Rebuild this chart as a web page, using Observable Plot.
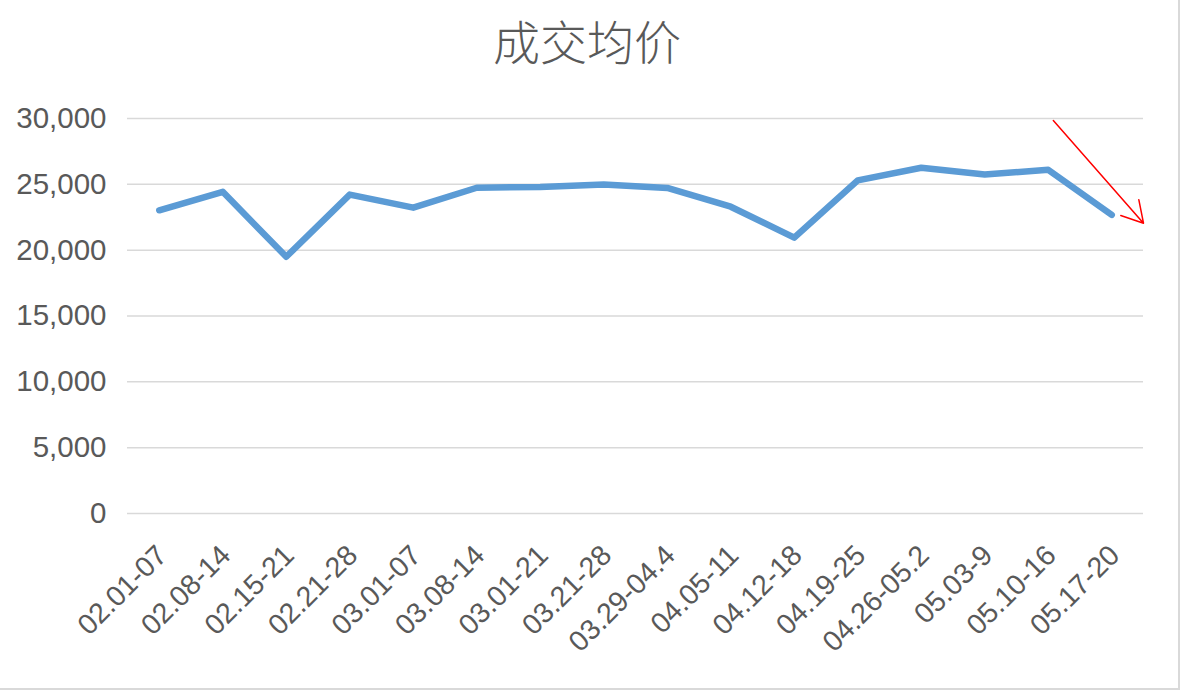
<!DOCTYPE html>
<html>
<head>
<meta charset="utf-8">
<script src="https://cdn.jsdelivr.net/npm/d3@7"></script>
<script src="https://cdn.jsdelivr.net/npm/@observablehq/plot@0.6"></script>
<style>
  html, body { margin: 0; padding: 0; background: #fff; }
  #wrap { width: 1178px; height: 688px; border-right: 2px solid #d9d9d9; border-bottom: 2px solid #d9d9d9; overflow: hidden; position: relative; background: #fff; }
  #title { height: 90px; line-height: 80px; text-align: center; font-family: "Noto Sans CJK SC", sans-serif; font-weight: 300; font-size: 47px; color: #595959; padding-right: 4px; box-sizing: border-box; }
  svg { display: block; }
</style>
</head>
<body>
<div id="wrap">
  <div id="title">成交均价</div>
  <div id="chart"></div>
</div>
<script>
const weeks = ["02.01-07","02.08-14","02.15-21","02.21-28","03.01-07","03.08-14","03.01-21","03.21-28","03.29-04.4","04.05-11","04.12-18","04.19-25","04.26-05.2","05.03-9","05.10-16","05.17-20"];
const avgPrice = [23030, 24430, 19500, 24220, 23230, 24740, 24800, 24980, 24730, 23300, 20950, 25300, 26260, 25750, 26100, 22680];
const yTicks = [0, 5000, 10000, 15000, 20000, 25000, 30000];
// annotation arrow (index units on x, value units on y)
const arrowFrom = {x: 14.08, y: 29850};
const arrowTo = {x: 15.5, y: 22050};

const data = weeks.map((w, i) => ({i, week: w, value: avgPrice[i]}));

const chart = Plot.plot({
  width: 1178,
  height: 598,
  marginLeft: 127,
  marginRight: 35,
  marginTop: 28,
  marginBottom: 175,
  style: {fontFamily: "'Liberation Sans', Arial, sans-serif", color: "#595959", background: "#fff"},
  x: {type: "linear", domain: [-0.5, weeks.length - 0.5]},
  y: {domain: [0, 30000]},
  marks: [
    Plot.gridY(yTicks, {stroke: "#d9d9d9", strokeOpacity: 1, strokeWidth: 1.5}),
    Plot.axisY(yTicks, {tickSize: 0, tickPadding: 21, fontSize: 29.5, tickFormat: d3.format(","), fill: "#595959"}),
    Plot.axisX(d3.range(weeks.length), {tickSize: 0, tickRotate: -45, tickPadding: 37, fontSize: 28.5, fill: "#595959", tickFormat: i => weeks[i], dx: 3, dy: 0}),
    Plot.line(data, {x: "i", y: "value", stroke: "#5b9bd5", strokeWidth: 6.5, strokeLinejoin: "round", strokeLinecap: "round"}),
    Plot.arrow([{x1: arrowFrom.x, y1: arrowFrom.y, x2: arrowTo.x, y2: arrowTo.y}], {x1: "x1", y1: "y1", x2: "x2", y2: "y2", stroke: "#ff0000", strokeWidth: 1.5, headLength: 24, headAngle: 60, bend: false})
  ]
});
document.getElementById("chart").appendChild(chart);
</script>
</body>
</html>
